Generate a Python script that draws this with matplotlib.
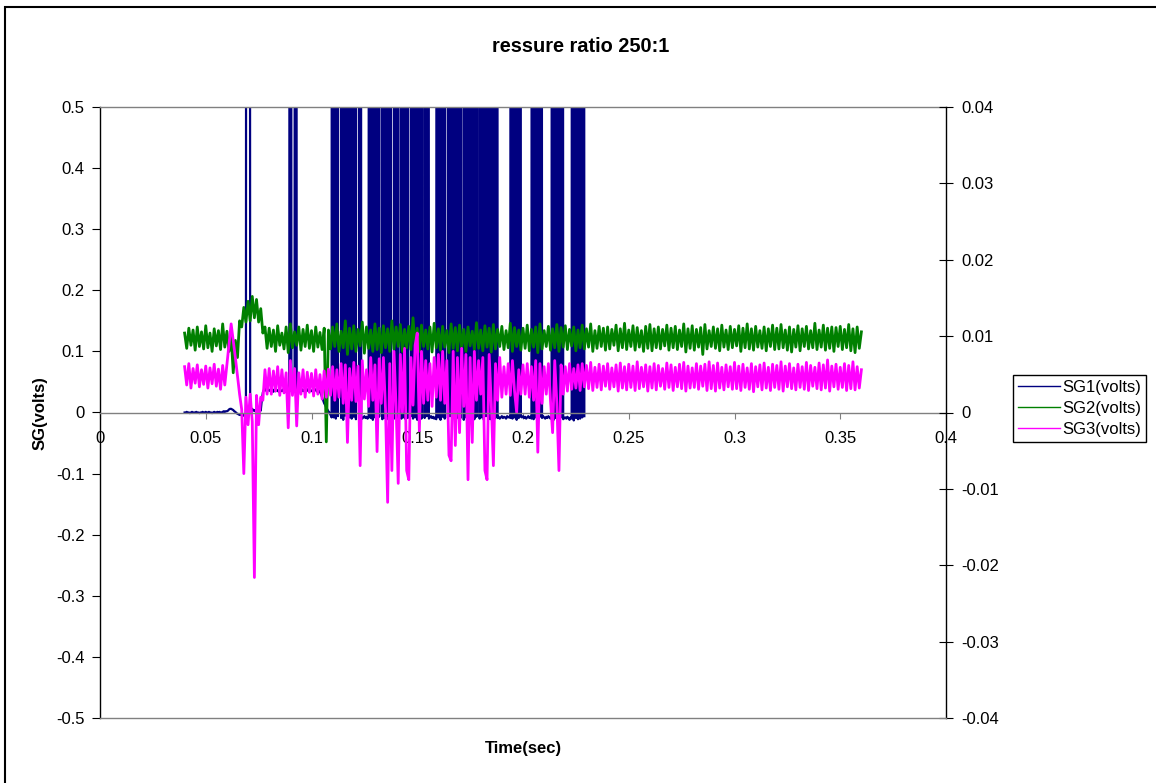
import numpy as np
import matplotlib
matplotlib.use('Agg')
import matplotlib.pyplot as plt
from matplotlib.patches import Rectangle
from matplotlib.ticker import FuncFormatter, MultipleLocator

plt.rcParams['font.family'] = ['Liberation Sans', 'DejaVu Sans']

title = 'ressure ratio 250:1'
xlabel = 'Time(sec)'
ylabel = 'SG(volts)'
names = ['SG1(volts)', 'SG2(volts)', 'SG3(volts)']

# SG1 sampled every 0.5 ms from 0.040 s (values far above 0.5 are clipped)
sg1_t0 = 0.040
sg1_dt = 0.0005
sg1 = [
	0, 0, .001, 0, 0, -.001, 0, .001, 0, 0,
	0, .001, 0, 0, -.001, 0, 0, .001, 0, 0,
	.001, 0, 0, .001, 0, 0, -.001, 0, .001, 0,
	0, .001, 0, .001, 0, 0, .001, .002, .001, .002,
	.002, .003, .005, .006, .006, .005, .004, .002, .001, -.001,
	-.002, -.003, -.004, -.004, -.003, -.005, -.004, -.006, -.005, 5,
	5, 5, .005, .002, .006, .003, .004, .002, .005, .003,
	.004, .006, .003, .02, .033, .037, .04, .036, .034, .038,
	.037, .035, .039, .036, .034, .038, .035, .037, .036, .034,
	.038, .036, .035, .037, .039, .034, .036, .038, .035, .037,
	5, .035, .036, .034, .037, 5, .035, .038, .036, .034,
	.036, .038, .035, .037, .034, .036, .038, .035, .037, .036,
	.035, .037, .034, .036, .038, .035, .033, .036, .034, .03,
	.025, .02, .015, .012, .008, .005, .002, 0, -.004, -.008,
	5, -.008, 5, -.01, 5, -.006, 5, 5, -.009, 5,
	-.012, 5, -.005, 5, -.02, 5, -.008, 5, -.01, 5,
	-.007, 5, -.011, 5, 5, -.009, 5, -.006, -.01, -.008,
	-.006, -.009, -.007, -.01, -.008, 5, -.009, 5, -.012, 5,
	-.008, 5, -.01, 5, -.007, 5, 5, -.011, 5, -.009,
	5, -.006, 5, -.012, 5, -.008, 5, 5, -.01, 5,
	-.007, 5, -.009, 5, 5, -.01, 5, -.008, 5, -.011,
	5, -.009, 5, 5, -.006, 5, -.01, 5, -.008, 5,
	-.012, 5, -.007, 5, -.01, 5, 5, -.009, 5, -.006,
	5, -.01, -.008, -.006, -.009, -.007, -.01, -.008, -.011, 5,
	-.008, 5, -.012, 5, -.007, 5, -.01, 5, 5, -.009,
	5, -.006, 5, -.011, 5, -.008, 5, -.01, 5, -.007,
	5, -.009, 5, 5, -.012, 5, -.008, 5, -.01, 5,
	-.006, 5, -.009, 5, -.011, 5, -.007, 5, 5, -.01,
	5, -.008, 5, -.012, 5, -.006, 5, -.009, 5, -.011,
	5, -.007, 5, -.01, -.008, 5, -.009, -.007, -.01, -.008,
	-.006, -.009, -.007, -.008, -.01, -.006, -.008, -.007, -.009, 5,
	-.01, 5, -.008, 5, -.012, 5, -.009, 5, -.007, -.008,
	-.006, -.009, -.007, -.01, -.008, -.006, -.009, -.007, -.01, 5,
	-.011, 5, -.008, 5, -.01, 5, -.007, 5, -.009, -.006,
	-.008, -.01, -.007, -.009, -.006, -.008, -.01, -.007, 5, -.012,
	5, -.009, 5, -.014, -.01, 5, -.008, 5, -.011, -.009,
	-.008, -.01, -.007, -.009, -.012, -.008, -.01, 5, -.013, 5,
	-.009, 5, -.011, 5, -.01, 5, -.008, 5, -.006,
]

# SG2 and SG3 sampled every 1 ms from 0.040 s
sg23_t0 = 0.040
sg23_dt = 0.001
sg2 = [
	.130, .105, .138, .110, .135, .102, .140, .108, .132, .104,
	.142, .106, .130, .100, .137, .109, .134, .103, .145, .107,
	.133, .100, .125, .065, .118, .090, .150, .140, .172, .148,
	.182, .150, .190, .155, .185, .148, .170, .130, .140, .105,
	.138, .108, .135, .100, .142, .110, .130, .104, .140, .098,
	.145, .106, .132, .110, .140, .102, .136, .108, .143, .105,
	.134, .100, .140, .107, .131, .103, .138, -.048, .135, .104,
	.140, .108, .145, .100, .133, .106, .150, .095, .138, .104,
	.142, .100, .136, .109, .148, .097, .140, .105, .135, .100,
	.145, .103, .138, .098, .142, .106, .137, .100, .150, .104,
	.140, .108, .144, .100, .136, .106, .141, .103, .155, .107,
	.138, .100, .143, .108, .135, .104, .140, .099, .146, .106,
	.137, .102, .141, .107, .134, .098, .145, .105, .139, .101,
	.143, .106, .136, .100, .140, .109, .133, .103, .147, .105,
	.135, .101, .142, .107, .138, .099, .144, .104, .136, .108,
	.141, .103, .134, .106, .146, .100, .139, .108, .135, .102,
	.138, .105, .143, .101, .136, .107, .140, .098, .145, .104,
	.134, .108, .141, .102, .137, .106, .144, .100, .139, .107,
	.142, .103, .136, .109, .140, .101, .135, .106, .143, .104,
	.137, .107, .145, .100, .134, .105, .141, .108, .138, .102,
	.140, .104, .136, .110, .143, .101, .137, .106, .146, .103,
	.135, .108, .142, .102, .139, .107, .134, .100, .141, .105,
	.144, .101, .137, .106, .140, .104, .136, .109, .143, .102,
	.138, .106, .141, .103, .135, .108, .145, .099, .137, .105,
	.142, .102, .136, .107, .139, .095, .144, .104, .134, .108,
	.140, .105, .137, .101, .143, .107, .135, .103, .141, .106,
	.136, .109, .142, .100, .138, .106, .145, .104, .137, .102,
	.141, .107, .134, .105, .140, .101, .137, .108, .143, .103,
	.138, .104, .144, .106, .135, .102, .140, .099, .136, .107,
	.142, .101, .137, .108, .141, .104, .134, .106, .146, .103,
	.135, .107, .143, .102, .138, .105, .140, .100, .139, .108,
	.141, .103, .136, .106, .144, .101, .137, .098, .140, .105,
	.132,
]
sg3 = [
	.075, .045, .080, .040, .072, .048, .078, .042, .070, .046,
	.076, .040, .073, .047, .079, .043, .071, .038, .077, .045,
	.078, .110, .145, .118, .090, .060, .030, .005, -.100, .025,
	-.020, .030, -.015, -.270, .028, -.020, .025, .020, .070, .030,
	.072, .030, .068, .035, .075, .028, .070, .032, .065, -.025,
	.085, .028, .072, -.022, .065, .030, .070, .025, .066, .033,
	.064, .027, .070, .030, .062, .022, .068, .025, .071, .028,
	.075, .020, .070, .025, .080, .015, .078, -.049, .072, .020,
	.082, .018, .076, -.087, .085, .022, .070, .010, .090, .020,
	.078, -.064, .088, .015, .090, .005, -.147, .080, -.095, .100,
	.010, -.116, .095, .000, .105, -.095, -.110, .090, .012, .110,
	.130, -.030, .100, .015, .085, .020, .080, .010, .090, .025,
	.095, .020, .100, .015, .085, -.070, -.079, .100, -.054, .090,
	-.033, .105, .010, .095, -.110, .090, -.049, .100, .020, .085,
	.030, .090, -.095, -.110, .095, .015, -.087, .080, .020, .090,
	.025, .075, .030, .080, .028, .085, .035, .000, .070, .030,
	.078, .030, .080, .025, .075, .020, .085, -.065, .080, .015,
	.075, .030, .080, .020, -.033, .085, .015, -.095, .078, .030,
	.075, .035, .080, .038, .072, .040, .078, .036, .080, .042,
	.077, .039, .082, .036, .074, .041, .079, .037, .076, .043,
	.080, .038, .073, .042, .078, .035, .081, .040, .075, .037,
	.079, .041, .076, .036, .083, .039, .074, .042, .078, .035,
	.075, .040, .080, .037, .077, .043, .072, .038, .081, .041,
	.078, .036, .074, .042, .079, .039, .082, .035, .076, .040,
	.073, .041, .080, .038, .076, .043, .079, .036, .083, .039,
	.077, .035, .081, .040, .074, .037, .078, .042, .075, .038,
	.082, .039, .076, .036, .079, .041, .073, .038, .080, .034,
	.075, .042, .078, .037, .081, .040, .074, .036, .079, .041,
	.077, .038, .083, .035, .076, .042, .080, .039, .073, .037,
	.079, .041, .075, .038, .082, .036, .077, .043, .074, .039,
	.081, .037, .078, .040, .086, .035, .076, .042, .079, .038,
	.074, .041, .080, .036, .077, .039, .083, .037, .075, .040,
	.070,
]

COL1 = '#000080'
COL2 = '#008000'
COL3 = '#FF00FF'
GREY = '#808080'

fig = plt.figure(figsize=(11.56, 7.83), dpi=100)
ax = fig.add_axes([100/1156, 1-718/783, 846/1156, 611/783])
ax2 = ax.twinx()

t1 = sg1_t0 + sg1_dt*np.arange(len(sg1))
t23 = sg23_t0 + sg23_dt*np.arange(len(sg2))
ax.plot(t1, sg1, color=COL1, lw=1.6, label=names[0])
ax.plot(t23, sg2, color=COL2, lw=2.0, label=names[1])
ax.plot(t23, sg3, color=COL3, lw=2.0, label=names[2])

fmt = FuncFormatter(lambda v, p: '%g' % (round(v, 4) + 0.0))
ax.set_xlim(0, 0.4)
ax.set_ylim(-0.5, 0.5)
ax.xaxis.set_major_locator(MultipleLocator(0.05))
ax.yaxis.set_major_locator(MultipleLocator(0.1))
ax.xaxis.set_major_formatter(fmt)
ax.yaxis.set_major_formatter(fmt)
ax2.set_ylim(-0.04, 0.04)
ax2.yaxis.set_major_locator(MultipleLocator(0.01))
ax2.yaxis.set_major_formatter(fmt)

ax.spines['bottom'].set_position(('data', 0))
ax.spines['bottom'].set_color(GREY)
ax.spines['top'].set_color(GREY)
ax.spines['right'].set_visible(False)
ax.spines['left'].set_color('black')
ax2.spines['left'].set_visible(False)
ax2.spines['top'].set_visible(False)
ax2.spines['bottom'].set_color(GREY)
ax2.spines['right'].set_color('black')
for s in ['left', 'bottom', 'top']:
	ax.spines[s].set_linewidth(1.0)
ax2.spines['right'].set_linewidth(1.0)
ax2.spines['bottom'].set_linewidth(1.0)

ax.tick_params(axis='x', direction='out', length=4, color=GREY, labelsize=12, pad=9)
ax.tick_params(axis='y', direction='out', length=6, labelsize=12, pad=5)
ax2.tick_params(axis='y', direction='inout', length=10, labelsize=12, pad=6)

fig.text(581/1156, 1-47/783, title, ha='center', va='center', fontsize=14.4, fontweight='bold')
fig.text(523/1156, 1-748/783, xlabel, ha='center', va='center', fontsize=12, fontweight='bold')
fig.text(40/1156, 1-413/783, ylabel, ha='center', va='center', rotation=90, fontsize=12, fontweight='bold')

h, l = ax.get_legend_handles_labels()
leg = fig.legend(h, l, loc='upper left', bbox_to_anchor=(1013/1156, 1-375/783), fontsize=12,
	frameon=True, fancybox=False, framealpha=1, edgecolor='black', borderaxespad=0,
	handlelength=2.5, handletextpad=0.15, borderpad=0.3, labelspacing=0.35)
leg.get_frame().set_linewidth(1.0)
for line in leg.get_lines():
	line.set_linewidth(1.0)

fig.patches.append(Rectangle((5/1156, -0.01), 1.0, 1.01-7/783, transform=fig.transFigure,
	fill=False, edgecolor='black', lw=1.5))

plt.savefig('out.png', dpi=100)
plt.close()
